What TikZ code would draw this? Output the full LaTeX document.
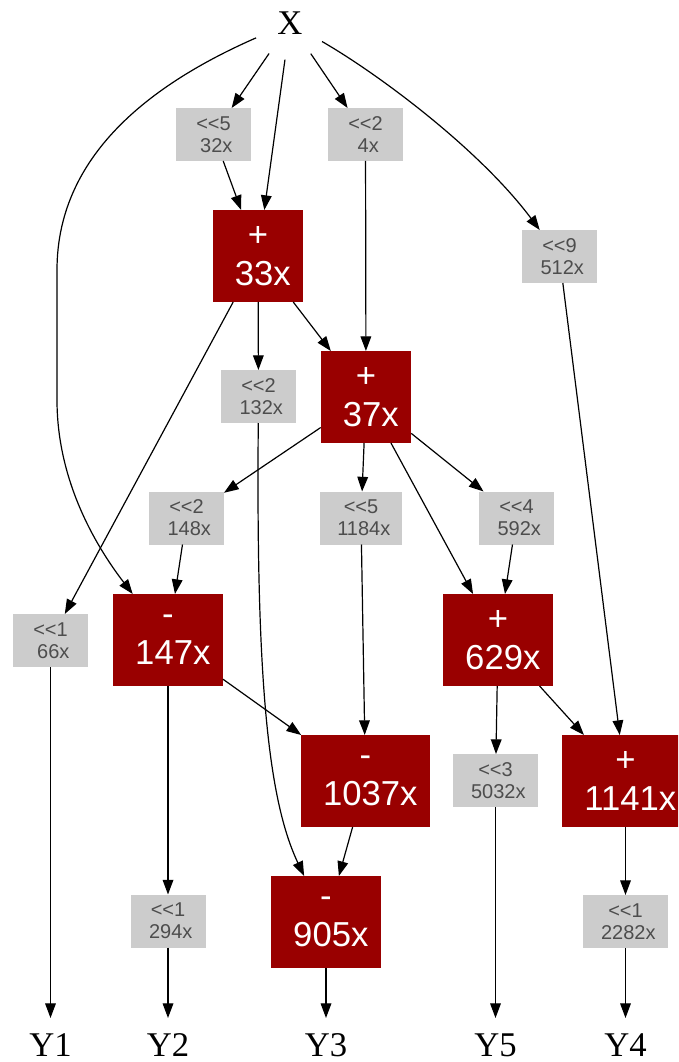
\documentclass[tikz,border=0pt]{standalone}
\usepackage{fontspec}
\setmainfont{Liberation Serif}
\newfontfamily\arialfont{Liberation Sans}
\usetikzlibrary{arrows.meta,positioning}
\definecolor{opRed}{HTML}{990000}
\definecolor{shGrey}{HTML}{CCCCCC}
\definecolor{shText}{HTML}{4D4D4D}
\newcommand{\lsp}{\hspace*{0.278em}}
\tikzset{
  op/.style  = {fill=opRed, text=white, align=center, outer sep=0pt,
                font=\arialfont\fontsize{26}{29}\selectfont,
                minimum width=67.5pt, minimum height=69pt, inner xsep=9.4pt},
  sh/.style  = {fill=shGrey, text=shText, align=center, outer sep=0pt,
                font=\arialfont\fontsize{15}{16.5}\selectfont,
                minimum width=56.25pt, minimum height=39.75pt, inner xsep=9pt},
  io/.style  = {font=\fontsize{26}{30}\selectfont, inner sep=0pt, outer sep=0pt},
  ar/.style  = {-{Triangle[length=11pt, width=8pt]}, line width=0.9pt},
}

\begin{document}
\begin{tikzpicture}[x=0.75pt, y=-0.75pt]
  \useasboundingbox (0,0) rectangle (678,1062);
  \clip (0,0) rectangle (678,1062);
  % input / outputs
  \node[io, circle, minimum size=55.5pt] (X) at (290,23) {X};
  \foreach \n/\x in {1/50.5,2/168,3/326,5/495.5,4/625.5}
    \node[io, minimum height=40.5pt] (Y\n) at (\x,1045) {Y\n};
  % shifts
  \node[sh] (n32)   at (213.5,134.5) {<<5\\\lsp 32x};
  \node[sh] (n4)    at (365.5,134.5) {<<2\\\lsp 4x};
  \node[sh] (n512)  at (559.5,256.5) {<<9\\\lsp 512x};
  \node[sh] (n132)  at (258.5,396.5) {<<2\\\lsp 132x};
  \node[sh] (n148)  at (186.5,518)   {<<2\\\lsp 148x};
  \node[sh] (n1184) at (361,518)     {<<5\\\lsp 1184x};
  \node[sh] (n592)  at (516.5,518)   {<<4\\\lsp 592x};
  \node[sh] (n66)   at (50.5,640.5)  {<<1\\\lsp 66x};
  \node[sh] (n5032) at (495.5,780.5) {<<3\\\lsp 5032x};
  \node[sh] (n294)  at (168,921)     {<<1\\\lsp 294x};
  \node[sh] (n2282) at (625.5,921.5) {<<1\\\lsp 2282x};
  % adders / subtractors
  \node[op] (n33)   at (258,256)   {+\\\lsp 33x};
  \node[op] (n37)   at (366,397)   {+\\\lsp 37x};
  \node[op] (n147)  at (168,640)   {-\\\lsp 147x};
  \node[op] (n629)  at (498,640)   {+\\\lsp 629x};
  \node[op] (n1037) at (365.5,781) {-\\\lsp 1037x};
  \node[op] (n1141) at (625.5,781) {+\\\lsp 1141x};
  \node[op] (n905)  at (326,922)   {-\\\lsp 905x};
  % straight edges
  \foreach \a/\b in {X/n32, X/n33, X/n4, n32/n33, n4/n37, n33/n132, n33/n37,
                     n33/n66, n37/n148, n37/n1184, n37/n592, n37/n629,
                     n148/n147, n1184/n1037, n592/n629, n512/n1141,
                     n147/n1037, n147/n294, n629/n5032, n629/n1141,
                     n1037/n905, n1141/n2282, n66/Y1, n294/Y2, n905/Y3,
                     n5032/Y5, n2282/Y4}
    \draw[ar] (\a) -- (\b);
  % curved edges
  \draw[ar] (X) .. controls (380,75) and (480,150) .. (n512);
  \draw[ar] (X) .. controls (160,80) and (57,150) .. (57,270) -- (57,400)
            .. controls (57,480) and (95,545) .. (n147);
  \draw[ar] (n132) .. controls (256,680) and (268,800) .. (n905);
\end{tikzpicture}
\end{document}
